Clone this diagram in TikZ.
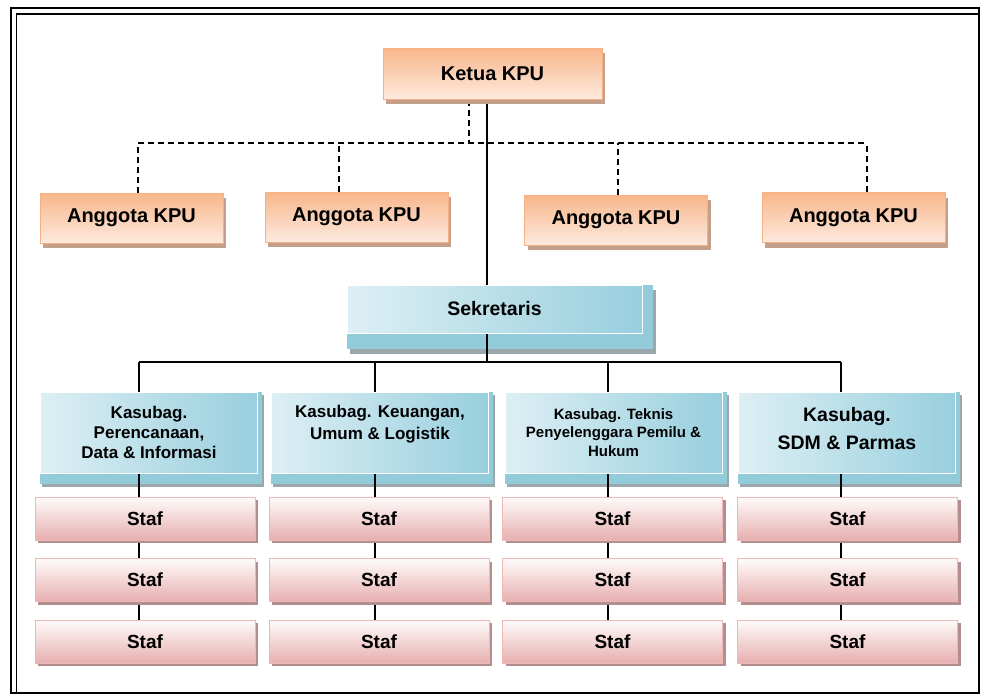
\documentclass[tikz,border=0pt]{standalone}
\usepackage{fontspec}
\setmainfont{Liberation Sans}
\usetikzlibrary{shadows, calc}
\definecolor{orgtop}{HTML}{F8B68A}
\definecolor{orgbot}{HTML}{FDEADF}
\definecolor{orgline}{HTML}{F6B084}
\definecolor{orgshadow}{HTML}{C4A08A}
\definecolor{bluelt}{HTML}{DDEFF4}
\definecolor{bluedk}{HTML}{98CFDE}
\definecolor{blueplate}{HTML}{92CBDA}
\definecolor{blueshadow}{HTML}{9AA7AB}
\definecolor{pinktop}{HTML}{FFFBFB}
\definecolor{pinkbot}{HTML}{E7AFAF}
\definecolor{pinkline}{HTML}{EDB8B8}
\definecolor{pinkshadow}{HTML}{B38E8E}
\pgfdeclarelayer{bg}
\pgfsetlayers{bg,main}

\begin{document}
\begin{tikzpicture}[x=1pt, y=-1pt,
    o/.style={draw=orgline, line width=1pt, top color=orgtop, bottom color=orgbot, minimum width=183pt, minimum height=50pt, inner sep=0pt,
      font=\fontsize{20}{24}\selectfont\bfseries, drop shadow={shadow xshift=3pt, shadow yshift=-5pt, fill=orgshadow, opacity=1}},
    b/.style={draw=white, line width=1pt, left color=bluelt, right color=bluedk, inner sep=0pt, align=center},
    k/.style={b, minimum width=217pt, minimum height=81pt},
    p/.style={draw=pinkline, line width=0.8pt, top color=pinktop, bottom color=pinkbot, minimum width=220pt, minimum height=43pt, inner sep=0pt,
      font=\fontsize{19}{23}\selectfont\bfseries, drop shadow={shadow xshift=3pt, shadow yshift=-3pt, fill=pinkshadow, opacity=1}},
    plate/.style={fill=blueplate},
    plateshadow/.style={fill=blueshadow},
    dashline/.style={line width=1.2pt, dash pattern=on 6pt off 4pt},
    conn/.style={line width=1.2pt}
]
    \useasboundingbox (0,0) rectangle (984,696);
    % frame
    \draw[line width=2pt] (11,8) rectangle (979,693);
    \draw[line width=1.6pt] (16.5,14) rectangle (979,693);

    \node[o, minimum width=219pt, minimum height=51pt] (ketua) at (492.5,73.5) {Ketua KPU};
    \node[o] (ang1) at (131.5,218) {Anggota KPU};
    \node[o] (ang2) at (356.5,217) {Anggota KPU};
    \node[o] (ang3) at (616,220) {Anggota KPU};
    \node[o] (ang4) at (853.5,217.5) {Anggota KPU};

    \node[b, minimum width=295pt, minimum height=48pt, font=\fontsize{19.5}{23}\selectfont\bfseries] (sek) at (494.5,309) {Sekretaris};

    \node[k, font=\fontsize{17}{20}\selectfont\bfseries] (kas1) at (149,432.5) {Kasubag.\\Perencanaan,\\Data \& Informasi};
    \node[k, font=\fontsize{17}{22}\selectfont\bfseries, text depth=20pt] (kas2) at (380,432.5) {Kasubag. Keuangan,\\Umum \& Logistik};
    \node[k, font=\fontsize{15}{18.5}\selectfont\bfseries] (kas3) at (613.5,432.5) {Kasubag. Teknis\\Penyelenggara Pemilu \&\\Hukum};
    \node[k, font=\fontsize{19.5}{28}\selectfont\bfseries, text depth=9pt] (kas4) at (847,432.5) {Kasubag.\\SDM \& Parmas};

    \foreach \c/\x in {1/145,2/379,3/612.5,4/847.5}
      \foreach \r/\y in {1/518.5,2/580,3/641.5}
        \node[p] (staf\c\r) at (\x,\y) {Staf};

    \coordinate (dbar) at (0,143);
    \coordinate (sbar) at (0,362);

    \begin{pgfonlayer}{bg}
      % plates under the blue boxes
      \fill[plateshadow] ([shift={(3pt,-5pt)}]sek.north west) rectangle ([shift={(13pt,-20pt)}]sek.south east);
      \fill[plate] (sek.north west) rectangle ([shift={(10pt,-15pt)}]sek.south east);
      \foreach \i in {1,...,4} {
        \fill[plateshadow] ([shift={(2pt,-3pt)}]kas\i.north west) rectangle ([shift={(6pt,-13pt)}]kas\i.south east);
        \fill[plate] (kas\i.north west) rectangle ([shift={(4pt,-10pt)}]kas\i.south east);
      }

      % ketua to anggota
      \coordinate (k1) at ([xshift=-23.5pt]ketua.south);
      \draw[dashline] (k1) -- (k1 |- dbar);
      \coordinate (da1) at ([xshift=6.5pt]ang1.north);
      \coordinate (da2) at ([xshift=-17.5pt]ang2.north);
      \coordinate (da3) at ([xshift=2pt]ang3.north);
      \coordinate (da4) at ([xshift=13.5pt]ang4.north);
      \draw[dashline] (da1 |- dbar) -- (da4 |- dbar);
      \foreach \i in {1,...,4}
        \draw[dashline] (da\i) -- (da\i |- dbar);

      % ketua to sekretaris to kasubag
      \coordinate (k0) at ([xshift=-5.5pt]ketua.south);
      \draw[conn] (k0) -- (k0 |- sek.north);
      \coordinate (s0) at ([xshift=-7.5pt]sek.south);
      \draw[conn] (s0) -- (s0 |- sbar);
      \foreach \i/\s in {1/-10,2/-5,3/-5.5,4/-6} {
        \coordinate (kt\i) at ([xshift=\s pt]kas\i.north);
        \draw[conn] (kt\i |- sbar) -- (kt\i |- staf\i3.north);
      }
      \draw[conn] (kt1 |- sbar) -- (kt4 |- sbar);
    \end{pgfonlayer}
\end{tikzpicture}
\end{document}
